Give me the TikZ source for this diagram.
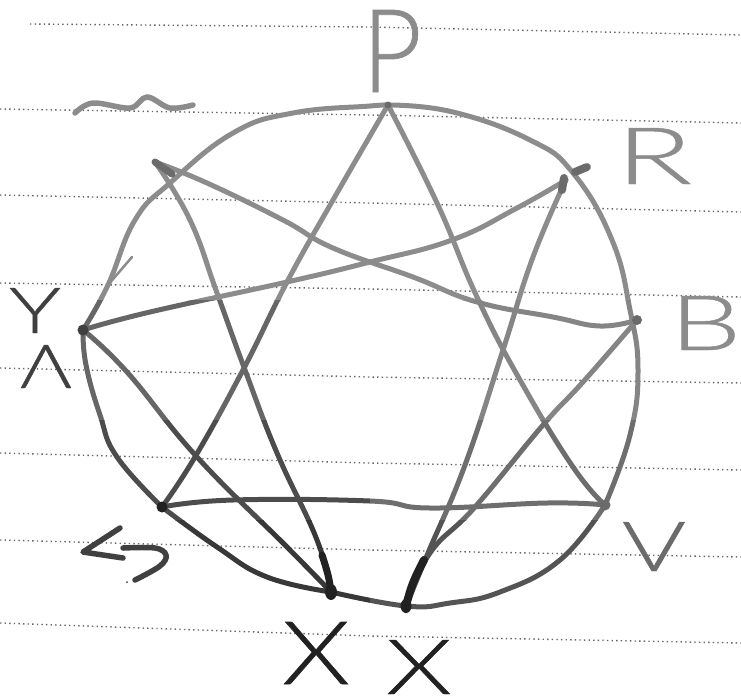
\documentclass[tikz,border=0pt]{standalone}
\usepackage{fontspec}
\newfontfamily\lbl[FakeBold=0.6]{Lato Light}
\newcommand{\hand}[3]{\resizebox{#1pt}{#2pt}{\lbl #3}}
\definecolor{inkl}{gray}{0.55}
\definecolor{inkm}{gray}{0.42}
\definecolor{inkd}{gray}{0.25}
\definecolor{inkk}{gray}{0.13}
\tikzset{
  stroke/.style={line width=5pt,line cap=round,line join=round},
  curve/.style={smooth,tension=0.75},
  rule/.style={gray!80!black,line width=1.4pt,dash pattern=on 1.4pt off 3.2pt},
  hub/.style={fill=#1,draw=none},
  glyph/.style={inner sep=0pt,outer sep=0pt,anchor=north west}
}
% ring and star, repeated once per ink band
\newcommand{\allcurves}{%
  \draw[stroke] plot[curve] coordinates {(p) (453,112) (530,140) (573,173) (612,240) (630,310) (638,370) (630,435) (v)};
  \draw[stroke] plot[curve] coordinates {(v) (560,560) (500,592) (450,603) (x2) (x1)};
  \draw[stroke] plot[curve] coordinates {(x1) (267,577) (217,547) (g)};
  \draw[stroke] plot[curve] coordinates {(g) (117,457) (100,415) (86,365) (y)};
  \draw[stroke] plot[curve] coordinates {(y) (108,285) (135,220) (170,183) (233,133) (293,113) (370,106) (p)};
  \draw[stroke] plot[curve] coordinates {(m) (207,183) (283,220) (333,248) (413,277) (477,302) (553,317) (600,326) (b)};
  \draw[stroke] plot[curve] coordinates {(m) (190,220) (217,293) (245,370) (277,453) (317,540) (x1)};
  \draw[stroke] plot[curve] coordinates {(r) (517,208) (452,240) (370,262) (287,282) (150,312) (y)};
  \draw[stroke] plot[curve] coordinates {(r) (533,257) (503,350) (465,465) (428,553) (x2)};
  \draw[stroke] plot[curve] coordinates {(p) (437,203) (477,297) (520,380) (573,467) (v)};
  \draw[stroke] plot[curve] coordinates {(p) (333,200) (287,282) (243,370) (195,457) (g)};
  \draw[stroke] plot[curve] coordinates {(b) (583,382) (543,425) (475,507) (430,553) (x2)};
  \draw[stroke] plot[curve] coordinates {(g) (233,500) (370,501) (430,508) (547,503) (v)};
  \draw[stroke] plot[curve] coordinates {(y) (127,372) (197,457) (287,547) (x1)};
}
\begin{document}
\begin{tikzpicture}[x=1pt,y=-1pt]
\useasboundingbox (0,0) rectangle (741,699);
% ruled paper
\draw[rule] (30,24) -- (370,27) -- (741,35);
\draw[rule] (0,109) -- (370,115) -- (741,123);
\draw[rule] (0,195) -- (370,203) -- (741,212);
\draw[rule] (0,283) -- (370,289) -- (741,297);
\draw[rule] (0,368) -- (370,377) -- (741,383);
\draw[rule] (0,453) -- (370,463) -- (741,470);
\draw[rule] (0,540) -- (370,550) -- (741,557);
\draw[rule] (0,623) -- (370,636) -- (741,643);
% vertices
\coordinate (p) at (388,105);
\coordinate (r) at (566,180);
\coordinate (b) at (637,320);
\coordinate (v) at (605,505);
\coordinate (x2) at (406,606);
\coordinate (x1) at (331,592);
\coordinate (g) at (162,507);
\coordinate (y) at (83,330);
\coordinate (m) at (155,162);
% ink bands: darker towards the bottom and the left
\foreach \xa/\xb/\ya/\yb/\ink in {
  0/370/0/300/0.55, 0/370/300/420/0.40, 0/370/420/520/0.30, 0/370/520/699/0.22,
  370/741/0/300/0.55, 370/741/300/420/0.52, 370/741/420/520/0.43, 370/741/520/699/0.33}{
  \begin{scope}
    \clip (\xa,\ya) rectangle (\xb,\yb);
    \definecolor{bandink}{gray}{\ink}
    \begin{scope}[color=bandink]
      \allcurves
    \end{scope}
  \end{scope}
}
% heavy ends and hubs
\draw[stroke,inkk,line width=8pt] plot[curve] coordinates {(424,560) (413,583) (x2)};
\draw[stroke,inkk,line width=7pt] plot[curve] coordinates {(322,555) (328,575) (x1)};
\fill[hub=inkk] (x1) ellipse (6pt and 8pt);
\fill[hub=inkk] (x2) ellipse (5.5pt and 7pt);
\fill[hub=inkk] (g) circle (5.5pt);
\fill[hub=inkd] (y) circle (5.5pt);
\fill[hub=inkm] (v) circle (5.5pt);
\fill[hub=inkm] (b) circle (5pt);
\draw[stroke,inkm,line width=7pt] (m) -- (172,174);
\fill[hub=inkm] (p) circle (3.5pt);
\draw[stroke,inkm,line width=8pt] (562,190) -- (564,178);
\draw[stroke,inkm,line width=8pt] (575,172) -- (587,167);
% marks
\draw[stroke,inkl,line width=5.5pt] plot[smooth,tension=0.6] coordinates {(75,113) (93,103) (130,108) (147,97) (170,108) (193,105)};
\draw[inkl,line width=2.5pt,line cap=round] (132,257) -- (108,285);
\draw[stroke,inkd,line width=5.5pt] (120,528) -- (83,552) -- (123,558);
\draw[stroke,inkd,line width=5.5pt] plot[smooth,tension=0.6] coordinates {(123,548) (155,548) (166,555) (160,566) (135,580)};
\fill[inkd] (127,582) circle (1pt);
% letters
\node[glyph,text=inkl] (lp) at (362,10) {\hand{60}{82}{P}};
\node[glyph,text=inkl] (lr) at (616,128) {\hand{76}{56}{R}};
\node[glyph,text=inkl] (lb) at (670,296) {\hand{71}{54}{B}};
\node[glyph,text=inkm] (lv) at (622,522) {\hand{64}{49}{V}};
\node[glyph,text=inkk] (lx1) at (282,622) {\hand{68}{62}{X}};
\node[glyph,text=inkk] (lx2) at (386,640) {\hand{66}{54}{X}};
\node[glyph,text=inkd] (ly) at (9,288) {\hand{52}{45}{Y}};
\node[glyph,text=inkd] (ll) at (20,345) {\hand{52}{43}{Λ}};
\end{tikzpicture}
\end{document}
